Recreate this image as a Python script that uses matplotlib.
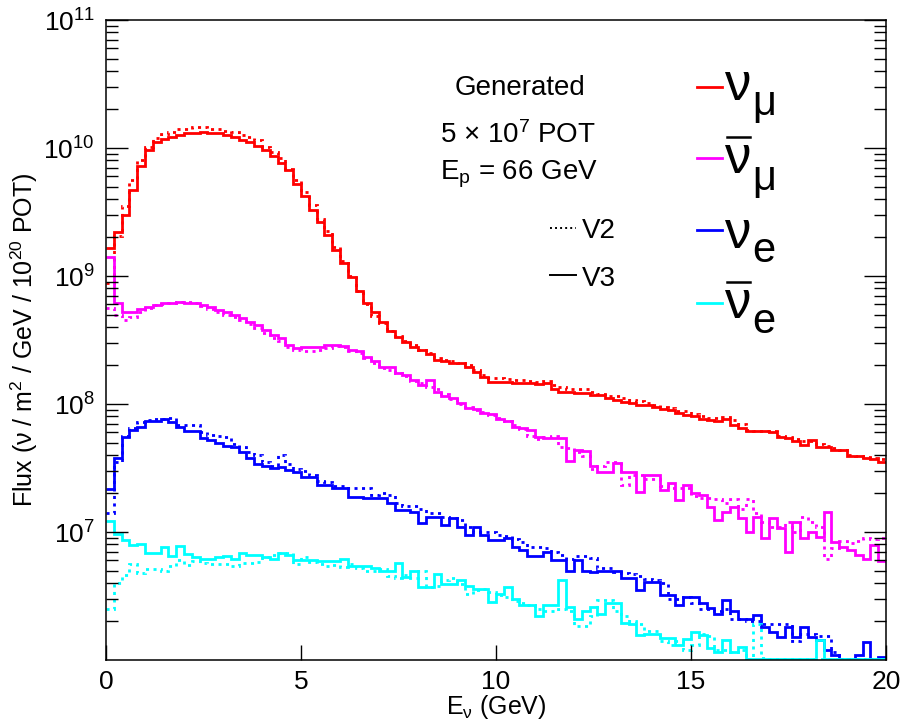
import numpy as np
import matplotlib
matplotlib.use("Agg")
import matplotlib.pyplot as plt
from matplotlib.ticker import LogLocator, NullLocator, NullFormatter

plt.rcParams["font.family"] = ["Liberation Sans", "DejaVu Sans"]
plt.rcParams["mathtext.fontset"] = "custom"
plt.rcParams["mathtext.rm"] = "Liberation Sans"
plt.rcParams["mathtext.it"] = "Liberation Sans"
plt.rcParams["mathtext.bf"] = "Liberation Sans:bold"

# 100 bins of 0.2 GeV between 0 and 20 GeV
e_min, e_max, n_bins = 0.0, 20.0, 100

numu_v3 = [
    1.66e9, 2.2e9, 3.0e9, 4.7e9, 7.2e9, 9.6e9, 1.11e10, 1.18e10, 1.22e10, 1.26e10,
    1.30e10, 1.32e10, 1.34e10, 1.32e10, 1.30e10, 1.26e10, 1.22e10, 1.15e10, 1.11e10, 1.04e10,
    9.6e9, 8.7e9, 7.6e9, 6.7e9, 5.2e9, 4.2e9, 3.3e9, 2.65e9, 2.1e9, 1.6e9,
    1.26e9, 9.9e8, 7.6e8, 6.2e8, 5.2e8, 4.4e8, 3.7e8, 3.35e8, 3.07e8, 2.8e8,
    2.65e8, 2.45e8, 2.2e8, 2.15e8, 2.1e8, 2.08e8, 1.95e8, 1.79e8, 1.63e8, 1.49e8,
    1.49e8, 1.48e8, 1.45e8, 1.45e8, 1.45e8, 1.43e8, 1.47e8, 1.32e8, 1.25e8, 1.23e8,
    1.21e8, 1.22e8, 1.17e8, 1.17e8, 1.11e8, 1.07e8, 1.04e8, 1.01e8, 9.8e7, 9.8e7,
    9.4e7, 9.2e7, 9.0e7, 8.45e7, 8.2e7, 8.0e7, 7.6e7, 7.5e7, 7.3e7, 7.7e7,
    6.85e7, 6.5e7, 6.15e7, 6.15e7, 6.1e7, 6.0e7, 5.5e7, 5.4e7, 5.1e7, 4.8e7,
    5.2e7, 4.6e7, 4.6e7, 4.4e7, 4.4e7, 3.9e7, 3.9e7, 3.8e7, 3.75e7, 3.55e7,
]
numu_v2 = [
    8.8e8, 2.04e9, 3.5e9, 5.6e9, 8.1e9, 1.02e10, 1.19e10, 1.28e10, 1.34e10, 1.40e10,
    1.42e10, 1.47e10, 1.47e10, 1.42e10, 1.40e10, 1.36e10, 1.34e10, 1.26e10, 1.22e10, 1.15e10,
    1.02e10, 9.3e9, 8.3e9, 6.9e9, 5.6e9, 4.5e9, 3.6e9, 2.8e9, 2.25e9, 1.7e9,
    1.3e9, 1.0e9, 7.6e8, 6.0e8, 4.9e8, 4.3e8, 3.7e8, 3.4e8, 3.1e8, 2.9e8,
    2.65e8, 2.5e8, 2.3e8, 2.2e8, 2.15e8, 2.1e8, 2.0e8, 1.85e8, 1.7e8, 1.6e8,
    1.6e8, 1.58e8, 1.55e8, 1.55e8, 1.52e8, 1.48e8, 1.5e8, 1.42e8, 1.35e8, 1.32e8,
    1.3e8, 1.3e8, 1.25e8, 1.2e8, 1.15e8, 1.15e8, 1.12e8, 1.08e8, 1.05e8, 1.02e8,
    9.8e7, 9.4e7, 9.3e7, 8.8e7, 8.8e7, 8.3e7, 8.0e7, 7.8e7, 7.8e7, 7.9e7,
    7.5e7, 7.0e7, 6.3e7, 6.2e7, 6.2e7, 6.1e7, 5.6e7, 5.5e7, 5.3e7, 5.1e7,
    5.1e7, 4.9e7, 4.7e7, 4.5e7, 4.4e7, 4.0e7, 3.9e7, 3.85e7, 3.8e7, 3.75e7,
]

numubar_v3 = [
    1.41e9, 6.2e8, 5.25e8, 5.25e8, 5.5e8, 5.7e8, 5.9e8, 6.1e8, 6.2e8, 6.3e8,
    6.2e8, 6.1e8, 5.9e8, 5.75e8, 5.4e8, 5.25e8, 4.95e8, 4.67e8, 4.4e8, 4.14e8,
    3.8e8, 3.46e8, 3.26e8, 2.9e8, 2.75e8, 2.8e8, 2.8e8, 2.8e8, 2.9e8, 2.9e8,
    2.85e8, 2.65e8, 2.6e8, 2.34e8, 2.16e8, 1.95e8, 1.95e8, 1.75e8, 1.7e8, 1.54e8,
    1.41e8, 1.54e8, 1.25e8, 1.15e8, 1.12e8, 1.01e8, 9.3e7, 9.2e7, 8.5e7, 8.4e7,
    7.6e7, 7.4e7, 6.6e7, 6.5e7, 6.3e7, 5.5e7, 5.4e7, 5.4e7, 5.4e7, 3.6e7,
    4.4e7, 4.3e7, 3.3e7, 2.95e7, 2.95e7, 3.44e7, 2.95e7, 2.95e7, 2.07e7, 2.79e7,
    2.79e7, 2.13e7, 2.4e7, 1.78e7, 2.33e7, 2.0e7, 1.95e7, 1.58e7, 1.24e7, 1.44e7,
    1.58e7, 1.28e7, 1.0e7, 1.32e7, 8.9e6, 1.28e7, 1.07e7, 7.0e6, 1.2e7, 8.9e6,
    1.0e7, 9.2e6, 1.44e7, 8.4e6, 7.7e6, 7.2e6, 6.6e6, 6.2e6, 7.9e6, 5.9e6,
]
numubar_v2 = [
    5.6e8, 4.95e8, 4.5e8, 4.8e8, 5.25e8, 5.6e8, 5.9e8, 6.0e8, 6.2e8, 6.3e8,
    6.3e8, 6.1e8, 5.8e8, 5.5e8, 5.2e8, 5.0e8, 4.8e8, 4.5e8, 4.2e8, 3.9e8,
    3.6e8, 3.3e8, 3.1e8, 2.8e8, 2.65e8, 2.6e8, 2.6e8, 2.65e8, 2.75e8, 2.85e8,
    2.8e8, 2.6e8, 2.5e8, 2.3e8, 2.1e8, 1.9e8, 1.85e8, 1.75e8, 1.65e8, 1.5e8,
    1.45e8, 1.35e8, 1.3e8, 1.2e8, 1.1e8, 1.0e8, 9.5e7, 9.0e7, 8.6e7, 8.2e7,
    7.8e7, 7.3e7, 6.8e7, 6.4e7, 5.6e7, 5.3e7, 5.5e7, 5.6e7, 4.6e7, 4.5e7,
    4.2e7, 3.9e7, 3.1e7, 3.3e7, 3.5e7, 3.5e7, 2.35e7, 2.8e7, 2.8e7, 2.6e7,
    2.6e7, 2.3e7, 2.2e7, 2.2e7, 2.2e7, 1.9e7, 1.85e7, 1.85e7, 1.8e7, 1.7e7,
    1.8e7, 1.5e7, 1.8e7, 1.4e7, 1.2e7, 1.1e7, 1.1e7, 1.2e7, 1.0e7, 1.3e7,
    1.2e7, 1.1e7, 6.2e6, 7.5e6, 8.5e6, 8.2e6, 8.5e6, 9.0e6, 8.8e6, 8.9e6,
]

nue_v3 = [
    2.17e7, 3.8e7, 5.5e7, 6.3e7, 6.65e7, 7.4e7, 7.4e7, 7.6e7, 7.2e7, 6.6e7,
    6.2e7, 6.2e7, 5.4e7, 5.24e7, 4.93e7, 4.7e7, 4.6e7, 4.24e7, 3.77e7, 3.4e7,
    3.3e7, 3.14e7, 3.2e7, 3.05e7, 2.95e7, 2.7e7, 2.7e7, 2.33e7, 2.33e7, 2.2e7,
    2.2e7, 1.89e7, 1.89e7, 1.84e7, 1.84e7, 1.84e7, 1.68e7, 1.48e7, 1.48e7, 1.44e7,
    1.18e7, 1.32e7, 1.32e7, 1.13e7, 1.28e7, 1.1e7, 9.5e6, 1.1e7, 9.5e6, 8.7e6,
    8.7e6, 8.9e6, 7.7e6, 7.2e6, 6.45e6, 6.45e6, 7.0e6, 6.0e6, 6.0e6, 5.0e6,
    6.0e6, 5.0e6, 4.9e6, 5.0e6, 5.0e6, 5.0e6, 4.37e6, 4.37e6, 3.52e6, 4.1e6,
    4.1e6, 3.2e6, 3.2e6, 2.69e6, 3.1e6, 3.1e6, 2.77e6, 2.54e6, 2.3e6, 2.95e6,
    2.4e6, 2.1e6, 2.1e6, 2.24e6, 1.82e6, 1.66e6, 1.51e6, 1.82e6, 1.51e6, 1.82e6,
    1.51e6, 1.43e6, 1.2e6, 1.1e6, 9.0e5, 9.0e5, 1.1e6, 1.39e6, 9.0e5, 1.05e6,
]
nue_v2 = [
    1.4e7, 3.5e7, 5.6e7, 6.5e7, 7.2e7, 7.5e7, 7.6e7, 7.7e7, 7.8e7, 6.9e7,
    6.9e7, 6.8e7, 6.0e7, 5.7e7, 5.6e7, 5.5e7, 4.9e7, 4.6e7, 4.2e7, 4.0e7,
    3.5e7, 3.3e7, 4.0e7, 3.4e7, 3.1e7, 3.0e7, 2.8e7, 2.5e7, 2.45e7, 2.3e7,
    2.3e7, 2.2e7, 2.2e7, 2.2e7, 1.95e7, 2.0e7, 1.95e7, 1.68e7, 1.6e7, 1.6e7,
    1.5e7, 1.4e7, 1.4e7, 1.3e7, 1.28e7, 1.25e7, 1.1e7, 1.0e7, 1.0e7, 1.0e7,
    9.5e6, 9.3e6, 8.8e6, 8.4e6, 7.6e6, 7.6e6, 7.5e6, 7.0e6, 6.6e6, 6.2e6,
    6.5e6, 6.5e6, 6.3e6, 5.2e6, 5.2e6, 4.9e6, 4.8e6, 4.7e6, 4.5e6, 4.3e6,
    4.2e6, 4.0e6, 3.0e6, 3.0e6, 3.1e6, 2.8e6, 2.5e6, 2.5e6, 2.4e6, 2.5e6,
    2.1e6, 2.1e6, 2.0e6, 2.0e6, 1.9e6, 1.9e6, 1.9e6, 1.9e6, 1.4e6, 1.6e6,
    1.6e6, 1.55e6, 1.55e6, 1.15e6, 9.0e5, 9.0e5, 9.0e5, 9.0e5, 9.0e5, 9.0e5,
]

nuebar_v3 = [
    1.22e7, 9.6e6, 8.7e6, 7.9e6, 8.06e6, 6.9e6, 6.8e6, 7.7e6, 6.5e6, 7.8e6,
    6.7e6, 6.4e6, 6.2e6, 6.2e6, 6.4e6, 6.55e6, 6.2e6, 6.8e6, 6.6e6, 6.6e6,
    6.4e6, 6.2e6, 6.9e6, 6.6e6, 6.0e6, 6.0e6, 6.0e6, 5.9e6, 5.9e6, 5.9e6,
    6.2e6, 5.4e6, 5.4e6, 5.4e6, 5.2e6, 5.0e6, 5.0e6, 5.7e6, 4.45e6, 5.0e6,
    3.7e6, 3.7e6, 4.7e6, 3.9e6, 3.9e6, 4.2e6, 3.8e6, 3.6e6, 3.6e6, 2.86e6,
    3.3e6, 3.7e6, 3.0e6, 2.68e6, 2.68e6, 2.2e6, 2.68e6, 2.68e6, 4.2e6, 2.6e6,
    2.1e6, 2.4e6, 2.6e6, 2.3e6, 2.8e6, 2.8e6, 1.94e6, 1.9e6, 1.57e6, 1.6e6,
    1.6e6, 1.48e6, 1.48e6, 1.31e6, 1.45e6, 1.66e6, 1.57e6, 1.23e6, 1.16e6, 1.43e6,
    1.16e6, 1.27e6, 9.0e5, 9.0e5, 9.0e5, 9.0e5, 9.0e5, 9.0e5, 9.0e5, 9.0e5,
    9.0e5, 1.43e6, 9.0e5, 9.0e5, 9.0e5, 9.0e5, 9.0e5, 9.0e5, 9.0e5, 9.0e5,
]
nuebar_v2 = [
    2.5e6, 4.0e6, 4.6e6, 5.6e6, 4.8e6, 5.1e6, 5.1e6, 5.0e6, 5.4e6, 6.0e6,
    5.5e6, 5.9e6, 5.7e6, 5.6e6, 5.6e6, 5.6e6, 5.4e6, 5.7e6, 5.7e6, 5.8e6,
    6.4e6, 6.6e6, 6.9e6, 6.8e6, 5.6e6, 6.4e6, 5.8e6, 5.6e6, 5.4e6, 5.5e6,
    5.3e6, 5.6e6, 5.2e6, 5.0e6, 5.0e6, 5.1e6, 4.5e6, 4.4e6, 4.6e6, 4.4e6,
    5.0e6, 3.7e6, 3.8e6, 4.2e6, 4.4e6, 3.9e6, 3.3e6, 3.5e6, 3.6e6, 3.4e6,
    3.2e6, 3.1e6, 2.9e6, 2.8e6, 2.7e6, 2.5e6, 2.4e6, 2.4e6, 2.5e6, 2.4e6,
    1.85e6, 1.85e6, 2.2e6, 2.95e6, 2.95e6, 2.4e6, 2.2e6, 2.0e6, 1.9e6, 1.7e6,
    1.7e6, 1.4e6, 1.3e6, 1.4e6, 1.2e6, 1.3e6, 1.6e6, 1.55e6, 1.2e6, 1.2e6,
    1.15e6, 1.2e6, 9.0e5, 1.9e6, 1.03e6, 9.0e5, 9.0e5, 9.0e5, 9.0e5, 9.0e5,
    9.0e5, 9.0e5, 9.0e5, 9.0e5, 9.0e5, 9.0e5, 9.0e5, 9.0e5, 9.0e5, 9.0e5,
]

species = [
    (numu_v2, numu_v3, "#ff0000"),
    (numubar_v2, numubar_v3, "#ff00ff"),
    (nue_v2, nue_v3, "#0000ff"),
    (nuebar_v2, nuebar_v3, "#00ffff"),
]

W, H = 904, 723
y_lo, y_hi = 1e6, 1e11


def fpos(x, y):
    return x / W, 1 - y / H


fig = plt.figure(figsize=(W / 100, H / 100), dpi=100)
ax = fig.add_axes([106 / W, 1 - 660 / H, 780 / W, 640 / H])

edges = np.linspace(e_min, e_max, n_bins + 1)
dotted = (0, (1.1, 1.6))
for v2, v3, col in species:
    # like ROOT, anything under the axis floor is drawn along the bottom
    ax.stairs(np.maximum(v2, 1.02 * y_lo), edges, baseline=None, color=col,
              lw=2.0, linestyle=dotted)
    ax.stairs(np.maximum(v3, 1.02 * y_lo), edges, baseline=None, color=col, lw=2.0)

ax.set_yscale("log")
ax.set_xlim(e_min, e_max)
ax.set_ylim(y_lo, y_hi)

ax.set_xticks([0, 5, 10, 15, 20])
ax.set_xticklabels(["0", "5", "10", "15", "20"])
ax.xaxis.set_minor_locator(NullLocator())
ax.set_yticks([1e7, 1e8, 1e9, 1e10, 1e11])
ax.set_yticklabels([r"$10^{7}$", r"$10^{8}$", r"$10^{9}$", r"$10^{10}$", r"$10^{11}$"])
ax.yaxis.set_minor_locator(LogLocator(base=10, subs=np.arange(2, 10)))
ax.yaxis.set_minor_formatter(NullFormatter())

ax.tick_params(axis="y", which="major", direction="in", length=16, width=1.0,
               right=True, labelsize=19, pad=8)
ax.tick_params(axis="y", which="minor", direction="in", length=8.5, width=1.0, right=True)
ax.tick_params(axis="x", which="major", direction="in", length=11, width=1.0,
               top=False, labelsize=19, pad=7)
for sp in ax.spines.values():
    sp.set_linewidth(1.1)

ax.set_xlabel(r"E$_{\nu}$ (GeV)", fontsize=18)
ax.set_ylabel(r"Flux ($\nu$ / m$^{2}$ / GeV / 10$^{20}$ POT)", fontsize=18)
ax.xaxis.set_label_coords(0.5, -0.052)
ax.yaxis.set_label_coords(-0.084, 0.5)

# info box
fig.text(*fpos(520, 95), "Generated", fontsize=20, ha="center", va="baseline")
fig.text(*fpos(440, 143), r"5 $\times$ 10$^{7}$ POT", fontsize=20, ha="left", va="baseline")
fig.text(*fpos(440, 180), r"E$_{\rm p}$ = 66 GeV", fontsize=20, ha="left", va="baseline")

# version key
fig.add_artist(plt.Line2D([550 / W, 576 / W], [1 - 228 / H] * 2, color="black",
                          lw=1.4, linestyle=(0, (1, 1.6))))
fig.text(*fpos(582, 238), "V2", fontsize=20, ha="left", va="baseline")
fig.add_artist(plt.Line2D([550 / W, 576 / W], [1 - 275 / H] * 2, color="black", lw=1.4))
fig.text(*fpos(582, 286), "V3", fontsize=20, ha="left", va="baseline")

# flavour key: line, nu, optional bar, subscript
key_rows = [
    (87, False, r"$\mu$", 100, 115, "#ff0000"),
    (158, True, r"$\mu$", 173, 190, "#ff00ff"),
    (230, False, "e", 248, 262, "#0000ff"),
    (303, True, "e", 318, 333, "#00ffff"),
]
for ly, has_bar, sub, base, sub_base, col in key_rows:
    fig.add_artist(plt.Line2D([697 / W, 722 / W], [1 - ly / H] * 2, color=col, lw=2.0))
    fig.text(*fpos(724, base), r"$\nu$", fontsize=38, ha="left", va="baseline")
    if has_bar:
        bar_y = 1 - (base - 36) / H
        fig.add_artist(plt.Line2D([727 / W, 750 / W], [bar_y, bar_y], color="black", lw=1.8))
    fig.text(*fpos(752, sub_base), sub, fontsize=30, ha="left", va="baseline")

fig.savefig("out.png", dpi=100)
